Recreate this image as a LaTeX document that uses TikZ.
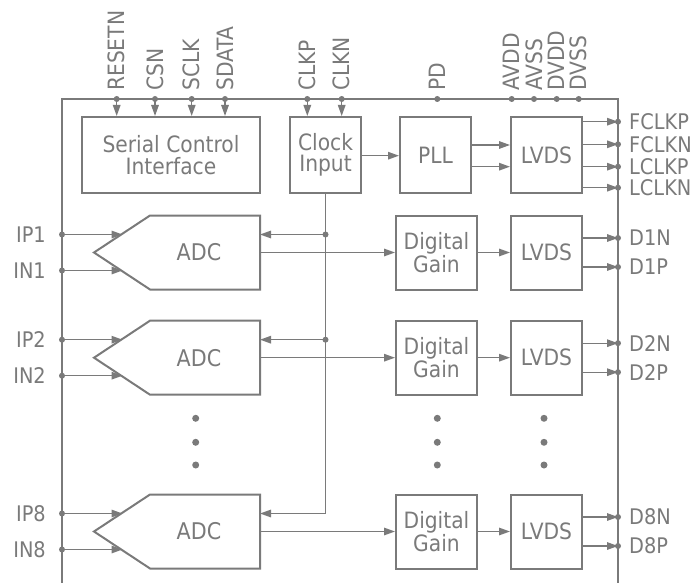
\documentclass[tikz,border=0pt]{standalone}
\usepackage{fontspec}
\setmainfont{DejaVu Sans Condensed}
\usetikzlibrary{arrows.meta}
\definecolor{ln}{RGB}{122,122,122}
\definecolor{tx}{RGB}{122,122,122}
\begin{document}
\begin{tikzpicture}[x=1pt,y=-1pt,
  box/.style={draw=ln, line width=2pt, minimum width=#1, minimum height=76pt, inner sep=0pt, align=center, text=tx, font=\fontsize{22.5}{21.5}\selectfont},
  boxline/.style={draw=ln, line width=2pt, line join=miter},
  txt/.style={text=tx, inner sep=0pt, font=\fontsize{23}{21}\selectfont},
  pinl/.style={text=tx, inner sep=0pt, font=\fontsize{21.5}{21}\selectfont},
  conn/.style={draw=ln, line width=1.4pt},
  arr/.style={conn, -{Triangle[length=11pt,width=7.5pt]}},
  dot/.style={fill=ln, draw=none},
]
\useasboundingbox (0,0) rectangle (699,583);
% outer frame
\draw[boxline] (62,583) -- (62,99) -- (618,99) -- (618,583);

% top blocks
\node[box=178] (sci) at (171,155) {Serial Control\\Interface};
\node[box=71] (clk) at (325.5,155) {Clock\\Input};
\node[box=71] (pll) at (435.5,155) {PLL};
\node[box=71] (lvt) at (546.5,155) {LVDS};

% top pins with arrows
\foreach \nm/\x/\tgt in {RESETN/116.7/sci, CSN/155/sci, SCLK/191.7/sci, SDATA/225/sci, CLKP/307.3/clk, CLKN/341.7/clk}{
  \coordinate (p\nm) at (\x,99);
  \fill[dot] (p\nm) circle (3);
  \draw[arr] (p\nm) -- (p\nm |- \tgt.north);
  \node[pinl, rotate=90, anchor=west, font=\fontsize{22.5}{21}\selectfont] (l\nm) at (\x,91) {\nm};
}
% top pins without arrows
\foreach \nm/\x in {PD/437.3, AVDD/511.7, AVSS/534, DVDD/556.7, DVSS/578.7}{
  \coordinate (p\nm) at (\x,99);
  \fill[dot] (p\nm) circle (3);
  \node[pinl, rotate=90, anchor=west, font=\fontsize{22.5}{21}\selectfont] (l\nm) at (\x,91) {\nm};
}

% clock -> PLL -> LVDS
\draw[arr] (clk.east |- 0,155.7) -- (pll.west |- 0,155.7);
\draw[arr] (pll.east |- 0,145) -- (lvt.west |- 0,145);
\draw[arr] (pll.east |- 0,166.7) -- (lvt.west |- 0,166.7);

% clock outputs
\foreach \nm/\y in {FCLKP/121.7, FCLKN/144.3, LCLKP/166.7, LCLKN/187.7}{
  \coordinate (o\nm) at (618,\y);
  \draw[arr] (lvt.east |- o\nm) -- (o\nm);
  \fill[dot] (o\nm) circle (3);
  \node[pinl, anchor=west] (l\nm) at (629,\y) {\nm};
}

% channel rows
\foreach \n/\cy in {1/252.5, 2/357.7, 8/531.5}{
  \draw[boxline] (94,\cy) -- (150,{\cy-37}) -- (260,{\cy-37}) -- (260,{\cy+37}) -- (150,{\cy+37}) -- cycle;
  \node[txt] (adc\n) at (199,\cy) {ADC};
  \coordinate (adcout\n) at (260,\cy);
  \coordinate (adcclk\n) at (260,{\cy-18});
  \coordinate (adcp\n) at (122.5,{\cy-18});
  \coordinate (adcn\n) at (122.5,{\cy+18});
  \coordinate (pip\n) at (62,{\cy-18});
  \coordinate (pin\n) at (62,{\cy+18});
  \fill[dot] (pip\n) circle (3);
  \fill[dot] (pin\n) circle (3);
  \draw[arr] (pip\n) -- (adcp\n);
  \draw[arr] (pin\n) -- (adcn\n);
  \node[pinl, anchor=east] (lip\n) at (46,{\cy-18}) {IP\n};
  \node[pinl, anchor=east] (lin\n) at (46,{\cy+18}) {IN\n};
  \node[box=81, minimum height=74pt] (dg\n) at (436.5,\cy) {Digital\\Gain};
  \node[box=71, minimum height=74pt] (lv\n) at (546.5,\cy) {LVDS};
  \draw[arr] (adcout\n) -- (dg\n.west);
  \draw[arr] (dg\n.east) -- (lv\n.west);
  \coordinate (odn\n) at (618,{\cy-14.5});
  \coordinate (odp\n) at (618,{\cy+14.5});
  \draw[arr] (lv\n.east |- odn\n) -- (odn\n);
  \draw[arr] (lv\n.east |- odp\n) -- (odp\n);
  \fill[dot] (odn\n) circle (3);
  \fill[dot] (odp\n) circle (3);
  \node[pinl, anchor=west] (ldn\n) at (629,{\cy-14.5}) {D\n N};
  \node[pinl, anchor=west] (ldp\n) at (629,{\cy+14.5}) {D\n P};
}

% clock distribution
\draw[arr] (clk.south) |- (adcclk8);
\foreach \n in {1,2}{
  \coordinate (ck\n) at (clk.south |- adcclk\n);
  \fill[dot] (ck\n) circle (3);
  \draw[arr] (ck\n) -- (adcclk\n);
}

% ellipsis dots
\foreach \x in {195.7, 437.3, 544}{
  \foreach \y in {418.3, 442.3, 465}{
    \fill[dot] (\x,\y) circle (3.5);
  }
}
\end{tikzpicture}
\end{document}
